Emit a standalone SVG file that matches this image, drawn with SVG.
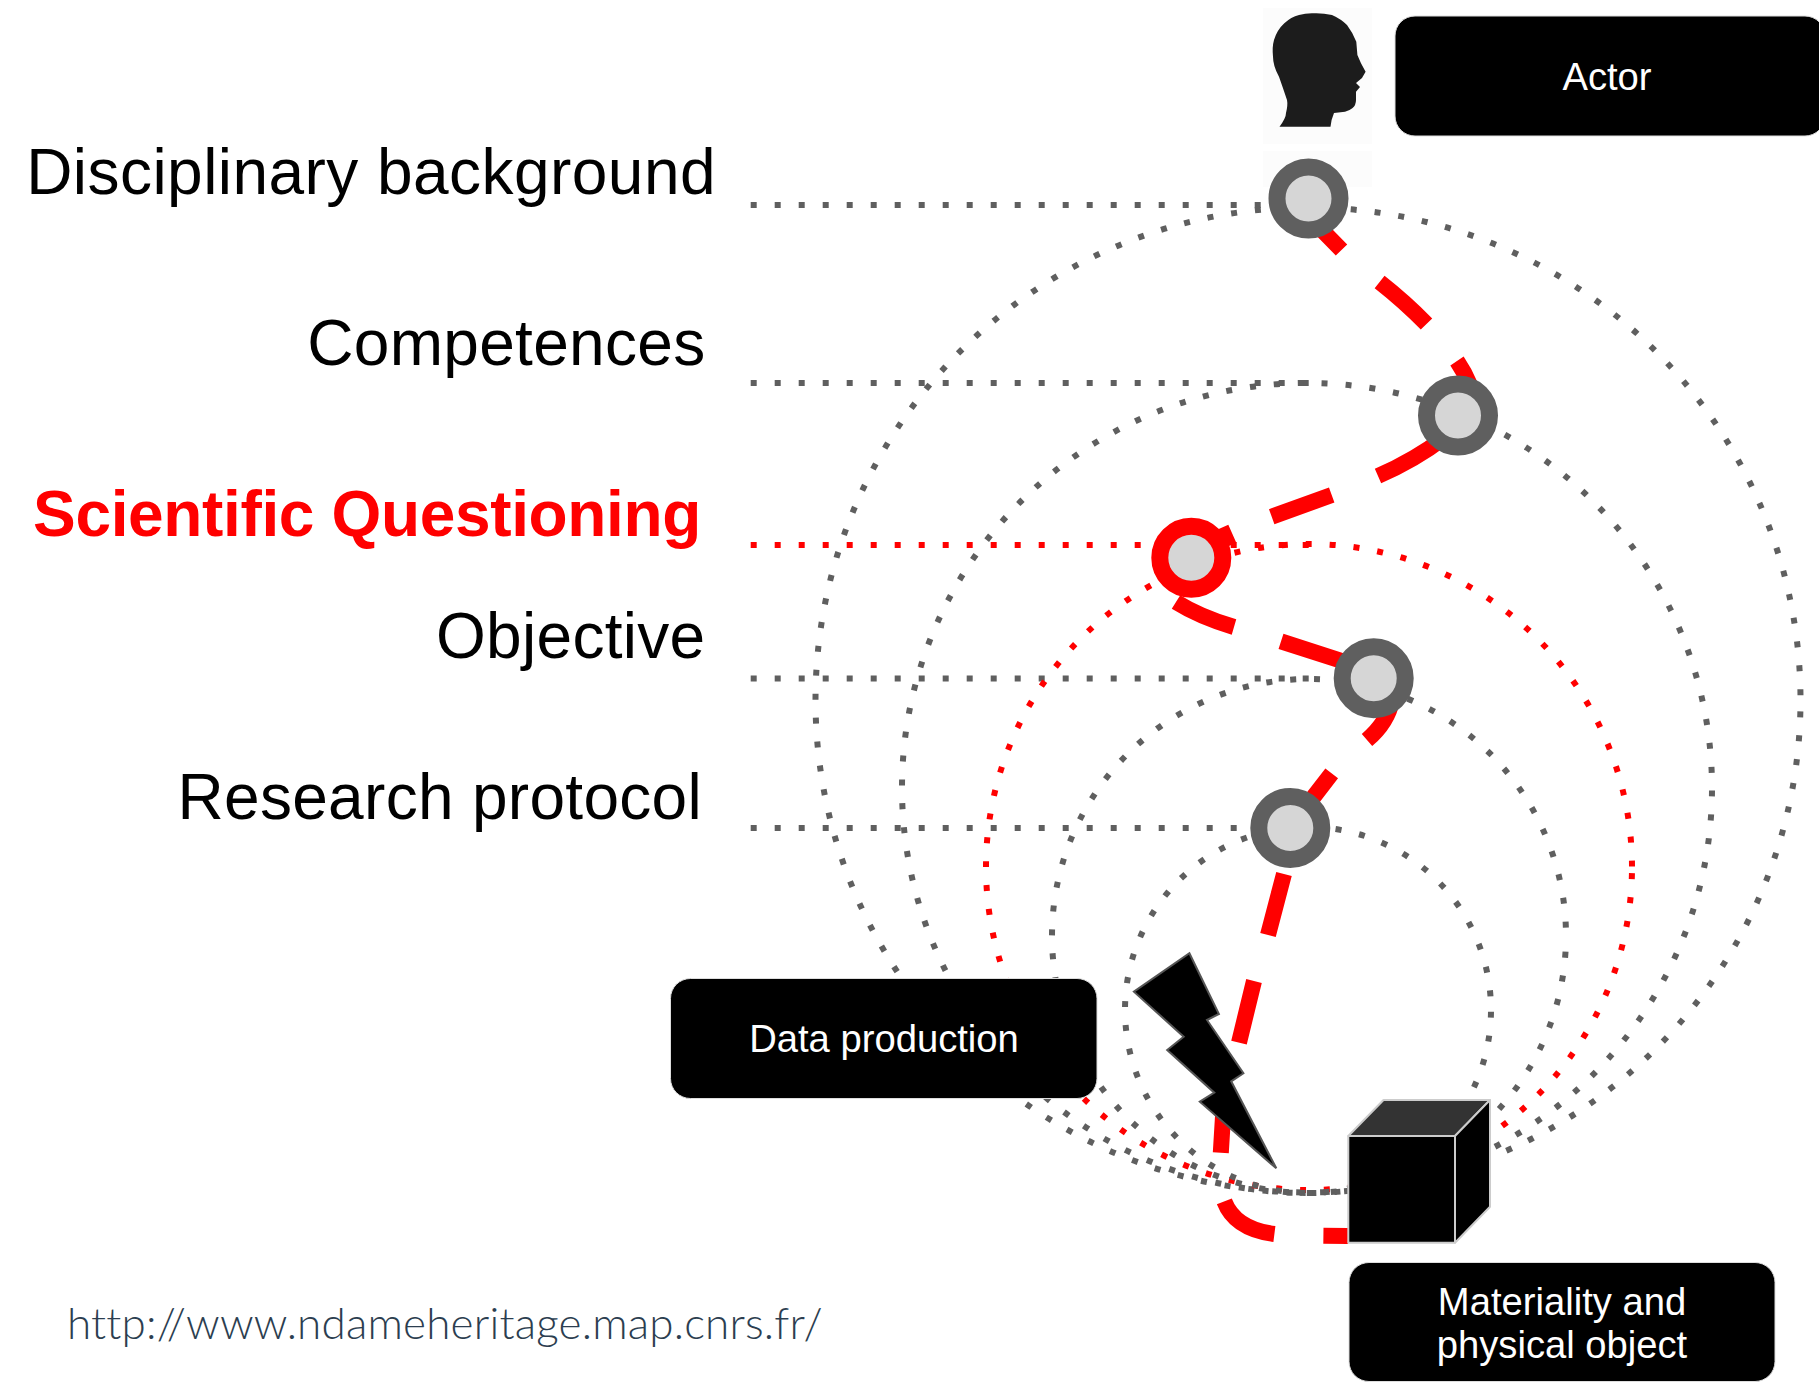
<svg xmlns="http://www.w3.org/2000/svg" width="1819" height="1384" viewBox="0 0 1819 1384">
<style>
.dot{fill:none;stroke:#5f5f5f;stroke-width:6;stroke-dasharray:6 18}
.red{stroke:#f00}
.dash{fill:none;stroke:#f00;stroke-width:16}
.ring{fill:#d6d6d6;stroke:#5f5f5f;stroke-width:17}
.box{fill:#000;stroke:#ddd;stroke-width:1}
.big{font-family:"Liberation Sans",Arial,sans-serif;font-size:64px;fill:#000;text-anchor:end;letter-spacing:.3px}
.lab{font-family:"Liberation Sans",Arial,sans-serif;font-size:38.2px;fill:#fff;text-anchor:middle}
</style>
<rect width="1819" height="1384" fill="#fff"/>
<g id="connectors">
<path class="dot" d="M750.7 205H1309"/>
<path class="dot" d="M750.7 383H1309"/>
<path class="dot red" d="M750.7 545H1309"/>
<path class="dot" d="M750.7 678.5H1309"/>
<path class="dot" d="M750.7 828H1309"/>
<circle class="dot" cx="1308" cy="700" r="492.5" stroke-dashoffset="-11.4"/>
<circle class="dot" cx="1307" cy="788" r="405" stroke-dashoffset="-2.5"/>
<circle class="dot red" cx="1309" cy="867" r="323" stroke-dashoffset="-6.2"/>
<circle class="dot" cx="1309" cy="936" r="257" stroke-dashoffset="-15.7"/>
<circle class="dot" cx="1308" cy="1010" r="183" stroke-dashoffset="-1.7"/>
<path class="dash" d="M1318 226L1341.5 250M1379.6 282Q1405 302 1426.5 324M1457 361Q1465 373 1470 385M1445 437Q1415 460 1378 476M1331.7 495L1271.7 516.7M1221 528L1229 546M1176 602Q1200 617 1234 627M1281 641.3L1345 662M1392 700Q1388 722 1367 740M1331.7 773.3L1305 808M1284 874L1268 935M1254 981L1239 1042.6M1224 1100L1220.8 1152.7M1224.3 1201.3Q1235 1229 1274.4 1234M1323.4 1235.7L1348 1236"/>
</g>
<g id="actor-head">
<rect x="1263" y="8" width="109" height="136" fill="#fcfcfc"/>
<rect x="1263" y="151" width="109" height="36" fill="#fcfcfc"/>
<path fill="#1c1c1c" d="M1279.5 126.7Q1286 118 1286 113Q1288 105 1287 100Q1283 88 1279 76.7Q1273 66 1273 56.7Q1272 47 1274 40Q1277 30 1284.3 23.3Q1291 17 1299 15Q1306 13 1313.9 13.3Q1323 13 1332 15Q1341 19 1347 25Q1353 33 1356.3 41.7L1357.4 55L1361 63.3L1365.6 71.7L1362 78L1356 83L1360 87L1356 91.7L1356 100Q1356 105 1352.6 108Q1349 111 1345 111.7L1334 113Q1331 120 1330.5 126.7Z"/>
</g>
<g id="node-disciplinary"><circle class="ring" cx="1308.5" cy="198.5" r="31.5"/></g>
<g id="node-competences"><circle class="ring" cx="1458" cy="415.5" r="31.5"/></g>
<g id="node-questioning"><circle class="ring" style="stroke:#f00" cx="1191.3" cy="557.7" r="31.5"/></g>
<g id="node-objective"><circle class="ring" cx="1373.7" cy="678.3" r="31.5"/></g>
<g id="node-protocol"><circle class="ring" cx="1290.3" cy="828" r="31.5"/></g>
<g id="lightning"><polygon fill="#000" stroke="#555" stroke-width="2" points="1189.4,953.3 1218.9,1014 1207,1020 1243.4,1073.3 1231.2,1081.3 1276.3,1168.3 1199.8,1101.7 1214.3,1092.7 1167.2,1050 1183.7,1036.7 1133.9,991.7"/></g>
<g id="cube" stroke="#ccc" stroke-width="2" stroke-linejoin="round">
<polygon fill="#333" points="1348.3,1136 1383.5,1100 1490,1100 1455,1136"/>
<polygon fill="#000" points="1455,1136 1490,1100 1490,1206.7 1455,1242.7"/>
<rect fill="#000" x="1348.3" y="1136" width="106.7" height="106.7"/>
</g>
<g id="box-actor"><rect class="box" x="1395" y="16" width="430" height="120" rx="20"/><text class="lab" x="1607" y="90">Actor</text></g>
<g id="box-data"><rect class="box" x="670.5" y="978.5" width="426.5" height="120" rx="20"/><text class="lab" x="884" y="1052">Data production</text></g>
<g id="box-material"><rect class="box" x="1349" y="1262.5" width="426" height="119" rx="20"/><text class="lab" x="1562" y="1315">Materiality and</text><text class="lab" x="1562" y="1358">physical object</text></g>
<g id="labels">
<text class="big" x="716" y="194" style="letter-spacing:.45px">Disciplinary background</text>
<text class="big" x="705.5" y="364.5">Competences</text>
<text class="big" x="701" y="536" style="fill:#f00;font-weight:bold;letter-spacing:-.35px">Scientific Questioning</text>
<text class="big" x="705.5" y="658">Objective</text>
<text class="big" x="702" y="818.5">Research protocol</text>
<text x="67" y="1339" font-family="Lato,sans-serif" font-weight="300" font-size="44" letter-spacing=".19" fill="#2c3e50">http://www.ndameheritage.map.cnrs.fr/</text>
</g>
</svg>
